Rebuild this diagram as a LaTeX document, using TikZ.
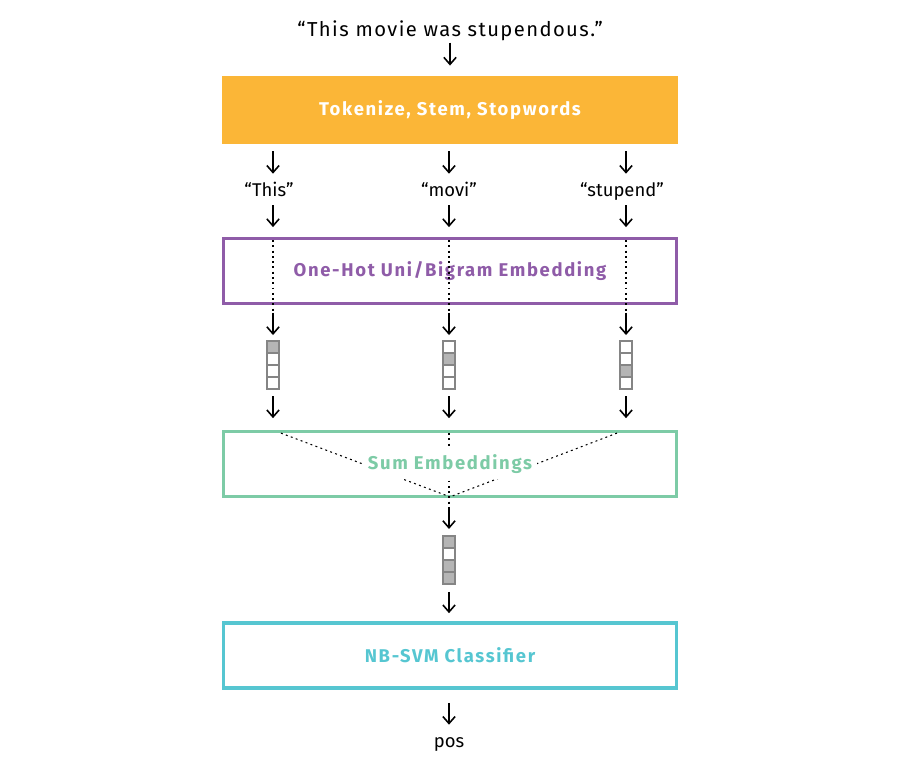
\documentclass[tikz,border=0pt]{standalone}
\usepackage{fontspec}
\setmainfont{Fira Sans}
\newfontfamily\widefont{Fira Sans}[LetterSpace=7]
\newfontfamily\stagefont{Fira Sans}[LetterSpace=9]
\usetikzlibrary{arrows.meta,positioning}

\definecolor{tokorange}{HTML}{FBB637}
\definecolor{embpurple}{HTML}{8F5CA8}
\definecolor{sumgreen}{HTML}{7DCBA6}
\definecolor{clfcyan}{HTML}{56C6D1}
\definecolor{cellfill}{HTML}{B5B5B5}
\definecolor{cellline}{HTML}{858585}

\tikzset{
  stage/.style={draw, line width=2.2pt, minimum width=9.06cm, minimum height=1.3cm,
    font=\stagefont\fontsize{10.5}{12}\selectfont\bfseries},
  word/.style={inner sep=0pt, text height=8pt, text depth=2.6pt,
    font=\fontsize{10.5}{12}\selectfont},
  down/.style={-{Straight Barb[length=4pt,width=7pt]}, line width=0.9pt},
  hot/.style={dash pattern=on 1.1pt off 1.9pt, line width=0.6pt},
  vec/.style={minimum width=0.24cm, minimum height=0.96cm, inner sep=0pt, outer sep=0pt},
}

\begin{document}
\begin{tikzpicture}[x=0.02cm, y=-0.02cm]
  \useasboundingbox (0,0) rectangle (900,774);

  % stages
  \node[word, anchor=base, font=\widefont\fontsize{11.5}{13}\selectfont] (sentence) at (450,36) {“This movie was stupendous.”};
  \node[stage, draw=tokorange, fill=tokorange, text=white] (tok) at (450,110) {Tokenize, Stem, Stopwords};
  \node[stage, draw=embpurple, text=embpurple] (emb) at (450,271) {One-Hot Uni/Bigram Embedding};
  \node[stage, draw=sumgreen] (sum) at (450,464) {};
  \node[stage, draw=clfcyan, text=clfcyan] (clf) at (450,655.5) {NB-SVM Classifier};

  % tokens
  \node[word, anchor=base] (this) at (269,196) {“This”};
  \node[word, anchor=base] (movi) at (449,196) {“movi”};
  \node[word, anchor=base] (stupend) at (622,196) {“stupend”};
  \node[word, anchor=base] (pos) at (449,747) {pos};

  % vectors
  \node[vec] (v1) at (273,365) {};
  \node[vec] (v2) at (449,365) {};
  \node[vec] (v3) at (626,365) {};
  \node[vec] (vs) at (449,560) {};
  \foreach \v/\on in {v1/1, v2/2, v3/3, vs/1, vs/3, vs/4}
    \fill[cellfill] ([shift={(-6,{-24+12*(\on-1)})}]\v.center) rectangle +(12,12);
  \foreach \v in {v1, v2, v3, vs}
    \foreach \k in {1,...,4}
      \draw[cellline, line width=0.8pt] ([shift={(-6,{-24+12*(\k-1)})}]\v.center) rectangle +(12,12);

  % arrows
  \draw[down, shorten <=1pt, shorten >=5.7pt] (sentence) -- (tok);
  \draw[down, shorten <=4pt, shorten >=4.5pt] (tok.south -| v1) -- (this.north -| v1);
  \draw[down, shorten <=4pt, shorten >=4.5pt] (tok.south -| v2) -- (movi.north -| v2);
  \draw[down, shorten <=4pt, shorten >=4.5pt] (tok.south -| v3) -- (stupend.north -| v3);
  \draw[down, shorten <=2.5pt, shorten >=5.4pt] (this.south -| v1) -- (emb.north -| v1);
  \draw[down, shorten <=2.5pt, shorten >=5.4pt] (movi.south -| v2) -- (emb.north -| v2);
  \draw[down, shorten <=2.5pt, shorten >=5.4pt] (stupend.south -| v3) -- (emb.north -| v3);
  \foreach \v in {v1, v2, v3} {
    \draw[hot, shorten <=2pt, shorten >=-3.7pt] (emb.north -| \v) -- (emb.south -| \v);
    \draw[down, shorten <=4.2pt, shorten >=3.4pt] (emb.south -| \v) -- (\v);
    \draw[down, shorten <=4pt, shorten >=6.5pt] (\v) -- (sum.north -| \v);
  }

  % summing lines
  \draw[hot] ([xshift=4.5pt, yshift=-2pt]sum.north -| v1) -- ([yshift=0.9pt]sum.south);
  \draw[hot] ([xshift=-5.1pt, yshift=-2pt]sum.north -| v3) -- ([yshift=0.9pt]sum.south);
  \draw[hot, shorten <=2pt, shorten >=-5.4pt] (sum.north -| vs) -- (sum.south -| vs);
  \node[fill=white, inner sep=3pt, text=sumgreen, font=\stagefont\fontsize{10.5}{12}\selectfont\bfseries] (sumlabel) at (sum) {Sum Embeddings};

  \draw[down, shorten <=5.4pt, shorten >=4pt] (sum.south -| vs) -- (vs);
  \draw[down, shorten <=4.5pt, shorten >=4.5pt] (vs) -- (clf.north -| vs);
  \draw[down, shorten <=7.4pt, shorten >=4.5pt] (clf.south -| pos) -- (pos);
\end{tikzpicture}
\end{document}
